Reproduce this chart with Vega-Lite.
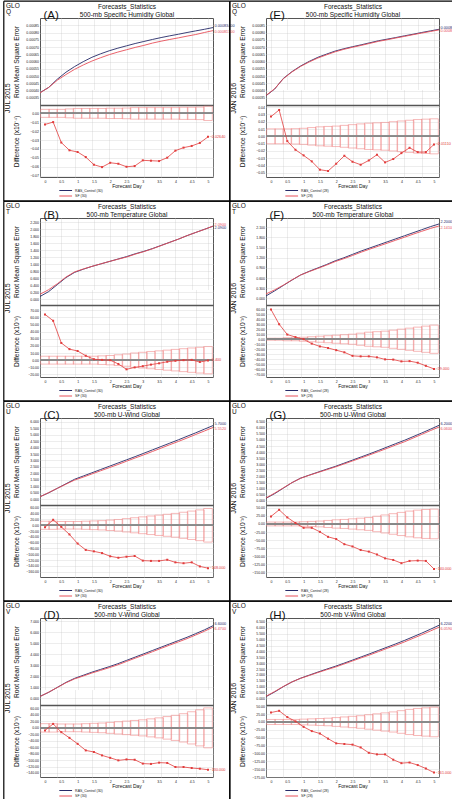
{
"$schema": "https://vega.github.io/schema/vega-lite/v6.json",
"padding": 0,
"background": "white",
"config": {
 "font": "Liberation Sans",
 "view": {"stroke": "#555", "strokeWidth": 1},
 "axis": {"grid": true, "gridColor": "#c4c4c4", "gridDash": [1, 1], "gridWidth": 0.6, "domain": false, "ticks": false, "labelFontSize": 3.5, "labelColor": "#222", "labelPadding": 1.5, "titleFontWeight": "normal", "titleColor": "#111"},
 "legend": {"labelFontSize": 3.5, "labelColor": "#222", "orient": "none", "legendX": 22.7, "legendY": 169.5, "direction": "vertical", "columns": 1, "title": null, "symbolType": "M-3,0H3", "symbolSize": 18, "symbolStrokeWidth": 1, "symbolOffset": 0, "rowPadding": 0.5, "labelOffset": 6.4}
},
"datasets": {"rows": [
{"p":"A","d":0,"c":0.000385,"f":0.000384,"v":-0.01245,"lo":-0.0045,"hi":0.0045},
{"p":"A","d":0.25,"c":0.000421,"f":0.000421,"v":-0.0098,"lo":-0.0045,"hi":0.0045},
{"p":"A","d":0.5,"c":0.000478,"f":0.000471,"v":-0.0328,"lo":-0.0045,"hi":0.0045},
{"p":"A","d":0.75,"c":0.000526,"f":0.00051,"v":-0.0415,"lo":-0.005,"hi":0.005},
{"p":"A","d":1,"c":0.000565,"f":0.000546,"v":-0.0434,"lo":-0.0055,"hi":0.0055},
{"p":"A","d":1.25,"c":0.000599,"f":0.000576,"v":-0.0491,"lo":-0.0055,"hi":0.0055},
{"p":"A","d":1.5,"c":0.000629,"f":0.000603,"v":-0.0577,"lo":-0.0055,"hi":0.0055},
{"p":"A","d":1.75,"c":0.000653,"f":0.000626,"v":-0.0604,"lo":-0.0055,"hi":0.0055},
{"p":"A","d":2,"c":0.000674,"f":0.000647,"v":-0.0555,"lo":-0.0058,"hi":0.0058},
{"p":"A","d":2.25,"c":0.000692,"f":0.000665,"v":-0.0566,"lo":-0.0058,"hi":0.0058},
{"p":"A","d":2.5,"c":0.000708,"f":0.000681,"v":-0.06,"lo":-0.006,"hi":0.006},
{"p":"A","d":2.75,"c":0.000724,"f":0.000697,"v":-0.0592,"lo":-0.0065,"hi":0.0065},
{"p":"A","d":3,"c":0.000738,"f":0.000711,"v":-0.0528,"lo":-0.0065,"hi":0.0065},
{"p":"A","d":3.25,"c":0.000752,"f":0.000727,"v":-0.0532,"lo":-0.0065,"hi":0.0065},
{"p":"A","d":3.5,"c":0.000765,"f":0.00074,"v":-0.0536,"lo":-0.0065,"hi":0.0065},
{"p":"A","d":3.75,"c":0.000777,"f":0.000752,"v":-0.0498,"lo":-0.0065,"hi":0.0065},
{"p":"A","d":4,"c":0.000788,"f":0.000763,"v":-0.0419,"lo":-0.0065,"hi":0.0065},
{"p":"A","d":4.25,"c":0.0008,"f":0.000775,"v":-0.0385,"lo":-0.0068,"hi":0.0068},
{"p":"A","d":4.5,"c":0.000811,"f":0.000786,"v":-0.0366,"lo":-0.0068,"hi":0.0068},
{"p":"A","d":4.75,"c":0.000822,"f":0.0008,"v":-0.0332,"lo":-0.007,"hi":0.007},
{"p":"A","d":5,"c":0.000834,"f":0.000813,"v":-0.0264,"lo":-0.008,"hi":0.008},
{"p":"E","d":0,"c":0.000364,"f":0.000366,"v":0.027,"lo":-0.0102,"hi":0.0102},
{"p":"E","d":0.25,"c":0.00041,"f":0.000412,"v":0.0361,"lo":-0.0102,"hi":0.0102},
{"p":"E","d":0.5,"c":0.000483,"f":0.000481,"v":-0.0066,"lo":-0.0102,"hi":0.0102},
{"p":"E","d":0.75,"c":0.00053,"f":0.000528,"v":-0.0184,"lo":-0.0105,"hi":0.0105},
{"p":"E","d":1,"c":0.000569,"f":0.000566,"v":-0.0261,"lo":-0.011,"hi":0.011},
{"p":"E","d":1.25,"c":0.000601,"f":0.000597,"v":-0.0343,"lo":-0.012,"hi":0.012},
{"p":"E","d":1.5,"c":0.000629,"f":0.000624,"v":-0.0457,"lo":-0.013,"hi":0.013},
{"p":"E","d":1.75,"c":0.000651,"f":0.000646,"v":-0.0475,"lo":-0.0135,"hi":0.0135},
{"p":"E","d":2,"c":0.000672,"f":0.000667,"v":-0.0375,"lo":-0.014,"hi":0.014},
{"p":"E","d":2.25,"c":0.000688,"f":0.000684,"v":-0.0266,"lo":-0.015,"hi":0.015},
{"p":"E","d":2.5,"c":0.000702,"f":0.000698,"v":-0.0348,"lo":-0.016,"hi":0.016},
{"p":"E","d":2.75,"c":0.000715,"f":0.000711,"v":-0.0389,"lo":-0.017,"hi":0.017},
{"p":"E","d":3,"c":0.000729,"f":0.000725,"v":-0.033,"lo":-0.018,"hi":0.018},
{"p":"E","d":3.25,"c":0.000743,"f":0.000739,"v":-0.0252,"lo":-0.0185,"hi":0.0185},
{"p":"E","d":3.5,"c":0.000754,"f":0.00075,"v":-0.0357,"lo":-0.019,"hi":0.019},
{"p":"E","d":3.75,"c":0.000765,"f":0.000762,"v":-0.0311,"lo":-0.02,"hi":0.02},
{"p":"E","d":4,"c":0.000777,"f":0.000773,"v":-0.023,"lo":-0.021,"hi":0.021},
{"p":"E","d":4.25,"c":0.000788,"f":0.000785,"v":-0.0157,"lo":-0.022,"hi":0.022},
{"p":"E","d":4.5,"c":0.0008,"f":0.000796,"v":-0.0216,"lo":-0.023,"hi":0.023},
{"p":"E","d":4.75,"c":0.000811,"f":0.000807,"v":-0.0216,"lo":-0.0235,"hi":0.0235},
{"p":"E","d":5,"c":0.000822,"f":0.000818,"v":-0.0111,"lo":-0.024,"hi":0.024},
{"p":"B","d":0,"c":0.08,"f":0.144,"v":63.9,"lo":-5.5,"hi":5.5},
{"p":"B","d":0.25,"c":0.22,"f":0.275,"v":55,"lo":-5.5,"hi":5.5},
{"p":"B","d":0.5,"c":0.42,"f":0.444,"v":24,"lo":-5.5,"hi":5.5},
{"p":"B","d":0.75,"c":0.62,"f":0.635,"v":15.4,"lo":-5.5,"hi":5.5},
{"p":"B","d":1,"c":0.77,"f":0.783,"v":12.8,"lo":-5.5,"hi":5.5},
{"p":"B","d":1.25,"c":0.86,"f":0.866,"v":6.2,"lo":-5.5,"hi":5.5},
{"p":"B","d":1.5,"c":0.94,"f":0.941,"v":1.3,"lo":-5.5,"hi":5.5},
{"p":"B","d":1.75,"c":1.01,"f":1.01,"v":0.4,"lo":-6,"hi":6},
{"p":"B","d":2,"c":1.08,"f":1.08,"v":0,"lo":-6.5,"hi":6.5},
{"p":"B","d":2.25,"c":1.15,"f":1.145,"v":-5.3,"lo":-7.5,"hi":7.5},
{"p":"B","d":2.5,"c":1.22,"f":1.207,"v":-12.8,"lo":-8.5,"hi":8.5},
{"p":"B","d":2.75,"c":1.3,"f":1.29,"v":-10.1,"lo":-10,"hi":10},
{"p":"B","d":3,"c":1.37,"f":1.362,"v":-8.4,"lo":-11,"hi":11},
{"p":"B","d":3.25,"c":1.45,"f":1.444,"v":-6.2,"lo":-12,"hi":12},
{"p":"B","d":3.5,"c":1.54,"f":1.536,"v":-4.4,"lo":-13,"hi":13},
{"p":"B","d":3.75,"c":1.63,"f":1.628,"v":-2.2,"lo":-14,"hi":14},
{"p":"B","d":4,"c":1.72,"f":1.719,"v":-0.9,"lo":-15,"hi":15},
{"p":"B","d":4.25,"c":1.82,"f":1.82,"v":0,"lo":-16,"hi":16},
{"p":"B","d":4.5,"c":1.91,"f":1.91,"v":0.4,"lo":-17,"hi":17},
{"p":"B","d":4.75,"c":2.0,"f":1.997,"v":-2.6,"lo":-18,"hi":18},
{"p":"B","d":5,"c":2.09,"f":2.09,"v":-0.4,"lo":-19,"hi":19},
{"p":"F","d":0,"c":0.07,"f":0.129,"v":59,"lo":-2,"hi":2},
{"p":"F","d":0.25,"c":0.22,"f":0.25,"v":29.8,"lo":-2,"hi":2},
{"p":"F","d":0.5,"c":0.38,"f":0.389,"v":9.3,"lo":-3,"hi":3},
{"p":"F","d":0.75,"c":0.54,"f":0.544,"v":4.3,"lo":-3,"hi":3},
{"p":"F","d":1,"c":0.69,"f":0.69,"v":0,"lo":-4,"hi":4},
{"p":"F","d":1.25,"c":0.8,"f":0.791,"v":-8.7,"lo":-5,"hi":5},
{"p":"F","d":1.5,"c":0.9,"f":0.886,"v":-14.3,"lo":-6,"hi":6},
{"p":"F","d":1.75,"c":1.0,"f":0.983,"v":-17.4,"lo":-7,"hi":7},
{"p":"F","d":2,"c":1.11,"f":1.088,"v":-21.7,"lo":-8,"hi":8},
{"p":"F","d":2.25,"c":1.2,"f":1.174,"v":-26,"lo":-9,"hi":9},
{"p":"F","d":2.5,"c":1.3,"f":1.267,"v":-33,"lo":-10,"hi":10},
{"p":"F","d":2.75,"c":1.4,"f":1.366,"v":-34,"lo":-12,"hi":12},
{"p":"F","d":3,"c":1.49,"f":1.456,"v":-34,"lo":-14,"hi":14},
{"p":"F","d":3.25,"c":1.58,"f":1.544,"v":-36,"lo":-15,"hi":15},
{"p":"F","d":3.5,"c":1.67,"f":1.63,"v":-40,"lo":-16,"hi":16},
{"p":"F","d":3.75,"c":1.76,"f":1.72,"v":-40.4,"lo":-18,"hi":18},
{"p":"F","d":4,"c":1.85,"f":1.806,"v":-44,"lo":-20,"hi":20},
{"p":"F","d":4.25,"c":1.94,"f":1.897,"v":-43.5,"lo":-22,"hi":22},
{"p":"F","d":4.5,"c":2.03,"f":1.983,"v":-46.6,"lo":-24,"hi":24},
{"p":"F","d":4.75,"c":2.12,"f":2.067,"v":-52.8,"lo":-26,"hi":26},
{"p":"F","d":5,"c":2.2,"f":2.141,"v":-59,"lo":-28,"hi":28},
{"p":"C","d":0,"c":0.2,"f":0.193,"v":-6.8,"lo":-14,"hi":14},
{"p":"C","d":0.25,"c":0.5,"f":0.519,"v":19,"lo":-14,"hi":14},
{"p":"C","d":0.5,"c":0.85,"f":0.844,"v":-5.6,"lo":-13,"hi":13},
{"p":"C","d":0.75,"c":1.2,"f":1.168,"v":-31.6,"lo":-13,"hi":13},
{"p":"C","d":1,"c":1.55,"f":1.487,"v":-63,"lo":-13,"hi":13},
{"p":"C","d":1.25,"c":1.8,"f":1.715,"v":-85,"lo":-14,"hi":14},
{"p":"C","d":1.5,"c":2.05,"f":1.96,"v":-90,"lo":-15,"hi":15},
{"p":"C","d":1.75,"c":2.3,"f":2.204,"v":-96,"lo":-16,"hi":16},
{"p":"C","d":2,"c":2.55,"f":2.443,"v":-107,"lo":-18,"hi":18},
{"p":"C","d":2.25,"c":2.8,"f":2.688,"v":-112,"lo":-20,"hi":20},
{"p":"C","d":2.5,"c":3.05,"f":2.942,"v":-108.5,"lo":-23,"hi":23},
{"p":"C","d":2.75,"c":3.3,"f":3.194,"v":-106,"lo":-26,"hi":26},
{"p":"C","d":3,"c":3.56,"f":3.438,"v":-122,"lo":-29,"hi":29},
{"p":"C","d":3.25,"c":3.82,"f":3.697,"v":-123,"lo":-32,"hi":32},
{"p":"C","d":3.5,"c":4.08,"f":3.957,"v":-123,"lo":-35,"hi":35},
{"p":"C","d":3.75,"c":4.34,"f":4.221,"v":-119,"lo":-38,"hi":38},
{"p":"C","d":4,"c":4.6,"f":4.472,"v":-128,"lo":-41,"hi":41},
{"p":"C","d":4.25,"c":4.87,"f":4.739,"v":-131,"lo":-45,"hi":45},
{"p":"C","d":4.5,"c":5.14,"f":5.012,"v":-128,"lo":-49,"hi":49},
{"p":"C","d":4.75,"c":5.42,"f":5.278,"v":-142,"lo":-53,"hi":53},
{"p":"C","d":5,"c":5.7,"f":5.552,"v":-148,"lo":-58,"hi":58},
{"p":"G","d":0,"c":0.22,"f":0.244,"v":23.5,"lo":-6,"hi":6},
{"p":"G","d":0.25,"c":0.6,"f":0.644,"v":44,"lo":-6,"hi":6},
{"p":"G","d":0.5,"c":1.05,"f":1.07,"v":20.4,"lo":-6,"hi":6},
{"p":"G","d":0.75,"c":1.5,"f":1.503,"v":3,"lo":-6,"hi":6},
{"p":"G","d":1,"c":1.87,"f":1.858,"v":-12,"lo":-7,"hi":7},
{"p":"G","d":1.25,"c":2.12,"f":2.108,"v":-12,"lo":-8,"hi":8},
{"p":"G","d":1.5,"c":2.36,"f":2.336,"v":-24.5,"lo":-9,"hi":9},
{"p":"G","d":1.75,"c":2.6,"f":2.56,"v":-40,"lo":-11,"hi":11},
{"p":"G","d":2,"c":2.83,"f":2.783,"v":-47,"lo":-13,"hi":13},
{"p":"G","d":2.25,"c":3.09,"f":3.027,"v":-63,"lo":-14,"hi":14},
{"p":"G","d":2.5,"c":3.35,"f":3.28,"v":-70,"lo":-16,"hi":16},
{"p":"G","d":2.75,"c":3.61,"f":3.529,"v":-81,"lo":-18,"hi":18},
{"p":"G","d":3,"c":3.87,"f":3.784,"v":-86,"lo":-20,"hi":20},
{"p":"G","d":3.25,"c":4.14,"f":4.045,"v":-95,"lo":-24,"hi":24},
{"p":"G","d":3.5,"c":4.42,"f":4.313,"v":-107,"lo":-28,"hi":28},
{"p":"G","d":3.75,"c":4.7,"f":4.588,"v":-112,"lo":-32,"hi":32},
{"p":"G","d":4,"c":4.97,"f":4.848,"v":-122,"lo":-36,"hi":36},
{"p":"G","d":4.25,"c":5.27,"f":5.155,"v":-115,"lo":-40,"hi":40},
{"p":"G","d":4.5,"c":5.57,"f":5.456,"v":-114,"lo":-43,"hi":43},
{"p":"G","d":4.75,"c":5.88,"f":5.765,"v":-115,"lo":-45,"hi":45},
{"p":"G","d":5,"c":6.2,"f":6.06,"v":-140,"lo":-46,"hi":46},
{"p":"D","d":0,"c":0.18,"f":0.172,"v":-8,"lo":-13,"hi":13},
{"p":"D","d":0.25,"c":0.55,"f":0.562,"v":12.4,"lo":-13,"hi":13},
{"p":"D","d":0.5,"c":1.0,"f":0.987,"v":-13.4,"lo":-12,"hi":12},
{"p":"D","d":0.75,"c":1.45,"f":1.419,"v":-31,"lo":-12,"hi":12},
{"p":"D","d":1,"c":1.82,"f":1.771,"v":-49.5,"lo":-12,"hi":12},
{"p":"D","d":1.25,"c":2.1,"f":2.03,"v":-70,"lo":-13,"hi":13},
{"p":"D","d":1.5,"c":2.38,"f":2.305,"v":-75,"lo":-14,"hi":14},
{"p":"D","d":1.75,"c":2.63,"f":2.545,"v":-85.5,"lo":-15,"hi":15},
{"p":"D","d":2,"c":2.88,"f":2.787,"v":-93,"lo":-17,"hi":17},
{"p":"D","d":2.25,"c":3.15,"f":3.049,"v":-101,"lo":-19,"hi":19},
{"p":"D","d":2.5,"c":3.45,"f":3.352,"v":-98,"lo":-21,"hi":21},
{"p":"D","d":2.75,"c":3.75,"f":3.651,"v":-99,"lo":-23,"hi":23},
{"p":"D","d":3,"c":4.05,"f":3.939,"v":-111,"lo":-25,"hi":25},
{"p":"D","d":3.25,"c":4.35,"f":4.238,"v":-112,"lo":-28,"hi":28},
{"p":"D","d":3.5,"c":4.65,"f":4.542,"v":-108,"lo":-31,"hi":31},
{"p":"D","d":3.75,"c":4.95,"f":4.841,"v":-109,"lo":-35,"hi":35},
{"p":"D","d":4,"c":5.25,"f":5.128,"v":-121.6,"lo":-39,"hi":39},
{"p":"D","d":4.25,"c":5.55,"f":5.428,"v":-121.6,"lo":-44,"hi":44},
{"p":"D","d":4.5,"c":5.88,"f":5.755,"v":-124.7,"lo":-50,"hi":50},
{"p":"D","d":4.75,"c":6.22,"f":6.093,"v":-126.8,"lo":-56,"hi":56},
{"p":"D","d":5,"c":6.6,"f":6.47,"v":-130,"lo":-62,"hi":62},
{"p":"H","d":0,"c":0.15,"f":0.18,"v":30,"lo":-8,"hi":8},
{"p":"H","d":0.25,"c":0.55,"f":0.586,"v":35.5,"lo":-8,"hi":8},
{"p":"H","d":0.5,"c":1.0,"f":1.016,"v":15.5,"lo":-8,"hi":8},
{"p":"H","d":0.75,"c":1.4,"f":1.402,"v":2,"lo":-8,"hi":8},
{"p":"H","d":1,"c":1.72,"f":1.705,"v":-15.5,"lo":-9,"hi":9},
{"p":"H","d":1.25,"c":1.98,"f":1.951,"v":-29,"lo":-10,"hi":10},
{"p":"H","d":1.5,"c":2.24,"f":2.203,"v":-36.7,"lo":-11,"hi":11},
{"p":"H","d":1.75,"c":2.49,"f":2.437,"v":-53,"lo":-12,"hi":12},
{"p":"H","d":2,"c":2.73,"f":2.662,"v":-68,"lo":-14,"hi":14},
{"p":"H","d":2.25,"c":2.99,"f":2.92,"v":-70,"lo":-16,"hi":16},
{"p":"H","d":2.5,"c":3.26,"f":3.188,"v":-72,"lo":-18,"hi":18},
{"p":"H","d":2.75,"c":3.53,"f":3.449,"v":-81,"lo":-20,"hi":20},
{"p":"H","d":3,"c":3.8,"f":3.702,"v":-98,"lo":-23,"hi":23},
{"p":"H","d":3.25,"c":4.08,"f":3.977,"v":-103,"lo":-26,"hi":26},
{"p":"H","d":3.5,"c":4.36,"f":4.257,"v":-103,"lo":-29,"hi":29},
{"p":"H","d":3.75,"c":4.64,"f":4.52,"v":-120,"lo":-32,"hi":32},
{"p":"H","d":4,"c":4.93,"f":4.799,"v":-131,"lo":-36,"hi":36},
{"p":"H","d":4.25,"c":5.24,"f":5.111,"v":-129,"lo":-40,"hi":40},
{"p":"H","d":4.5,"c":5.55,"f":5.413,"v":-137,"lo":-43,"hi":43},
{"p":"H","d":4.75,"c":5.88,"f":5.732,"v":-148,"lo":-45,"hi":45},
{"p":"H","d":5,"c":6.22,"f":6.059,"v":-161,"lo":-47,"hi":47}
]},
"columns": 2,
"spacing": {"row": 41, "column": 53},
"bounds": "flush",
"resolve": {"scale": {"color": "independent"}},
"concat": [
{"width": 173, "height": 159,
 "data": {"name": "rows"},
 "transform": [{"filter": "datum.p == 'A'"}],
 "resolve": {"scale": {"x": "independent", "y": "independent"}, "axis": {"x": "independent", "y": "independent"}},
 "layer": [
  {"resolve": {"axis": {"x": "independent", "y": "independent"}},
   "layer": [
    {"mark": {"type": "point", "opacity": 0}, "encoding": {
      "x": {"datum": 0, "type": "quantitative", "scale": {"domain": [0, 1], "range": [-36.7, 189.3]}, "axis": {"orient": "top", "offset": 17.3, "domain": true, "domainColor": "#000", "domainWidth": 1.2, "labels": false, "grid": false, "title": ["Forecasts_Statistics", "500-mb Specific Humidity   Global"], "titleX": 86.5, "titleY": 2.3, "titleAngle": 0, "titleAlign": "center", "titleBaseline": "top", "titleFontSize": 6.5, "titleLineHeight": 8.4}},
      "y": {"datum": 0, "type": "quantitative", "scale": {"domain": [0, 1], "range": [182.7, -17.3]}, "axis": {"orient": "left", "offset": 36.7, "domain": true, "domainColor": "#000", "domainWidth": 1.2, "labels": false, "grid": false, "title": null}}}},
    {"mark": {"type": "point", "opacity": 0}, "encoding": {
      "x": {"datum": 0, "type": "quantitative", "axis": {"orient": "bottom", "offset": 23.7, "domain": true, "domainColor": "#000", "domainWidth": 1.2, "labels": false, "grid": false, "title": null}},
      "y": {"datum": 0, "type": "quantitative", "axis": {"orient": "right", "offset": 16.3, "domain": true, "domainColor": "#000", "domainWidth": 1.2, "labels": false, "grid": false, "title": null}}}}
   ]},
  {"transform": [{"fold": ["c", "f"], "as": ["s", "val"]}],
   "resolve": {"axis": {"x": "independent", "y": "independent"}},
   "layer": [
    {"mark": {"type": "line", "strokeWidth": 0.9},
     "encoding": {
      "x": {"field": "d", "type": "quantitative", "scale": {"domain": [0, 5], "nice": false}, "axis": {"orient": "bottom", "grid": true, "labels": false, "title": null, "values": [0,0.5,1,1.5,2,2.5,3,3.5,4,4.5,5]}},
      "y": {"field": "val", "type": "quantitative", "scale": {"domain": [0.0003, 0.0009], "range": [87, 0], "nice": false, "zero": false}, "axis": {"orient": "left", "grid": true, "values": [0.00035,0.0004,0.00045,0.0005,0.00055,0.0006,0.00065,0.0007,0.00075,0.0008,0.00085], "format": ".5f", "title": "Root Mean Square Error", "titleX": -23.5, "titleY": 43.5, "titleAngle": 270, "titleAlign": "center", "titleBaseline": "middle", "titleFontSize": 6.6}},
      "color": {"field": "s", "type": "nominal", "scale": {"domain": ["c", "f"], "range": ["#262a68", "#e8505a"]}, "legend": {"labelExpr": "datum.label == 'c' ? 'RAS_Control (30)' : 'SF (30)'"}}
     }},
    {"transform": [{"filter": "datum.d == 5 && datum.s == 'c'"}],
     "mark": {"type": "text", "align": "left", "dx": 1.5, "dy": -1.6, "fontSize": 3.8, "color": "#262a68"},
     "encoding": {
      "x": {"field": "d", "type": "quantitative", "axis": {"orient": "top", "grid": false, "labels": false, "title": "(A)", "titleX": 3, "titleY": 0.5, "titleAngle": 0, "titleAlign": "left", "titleBaseline": "alphabetic", "titleFontSize": 11.5}},
      "y": {"field": "val", "type": "quantitative", "axis": {"orient": "left", "grid": false, "labels": false, "title": ["GLO", "Q"], "titleX": -34.5, "titleY": -16, "titleAngle": 0, "titleAlign": "left", "titleBaseline": "top", "titleFontSize": 6.5, "titleLineHeight": 6}},
      "text": {"field": "val", "type": "quantitative", "format": ".8f"}
     }},
    {"transform": [{"filter": "datum.d == 5 && datum.s == 'f'"}],
     "mark": {"type": "text", "align": "left", "dx": 1.5, "dy": 1.6, "fontSize": 3.8, "color": "#e8505a"},
     "encoding": {
      "x": {"field": "d", "type": "quantitative", "axis": null},
      "y": {"field": "val", "type": "quantitative", "axis": null},
      "text": {"field": "val", "type": "quantitative", "format": ".8f"}
     }}
   ]},
  {"resolve": {"axis": {"x": "independent", "y": "independent"}},
   "layer": [
    {"mark": {"type": "bar", "width": 8.65, "fill": "transparent", "stroke": "#f08c8c", "strokeWidth": 0.6, "clip": true},
     "encoding": {
      "x": {"field": "d", "type": "quantitative", "scale": {"domain": [0, 5], "nice": false}, "axis": {"orient": "bottom", "grid": true, "values": [0,0.5,1,1.5,2,2.5,3,3.5,4,4.5,5], "format": "~f", "labelPadding": 2.5, "title": "Forecast Day", "titleFontSize": 5, "titleY": 8.3, "titleBaseline": "middle"}},
      "y": {"field": "lo", "type": "quantitative", "scale": {"domain": [-0.0715, 0.0094], "range": [159, 87], "nice": false, "zero": false}, "axis": {"orient": "left", "grid": true, "values": [0,-0.01,-0.02,-0.03,-0.04,-0.05,-0.06,-0.07], "format": ".2f", "title": "Difference (x10⁻⁴)", "titleX": -23.5, "titleY": 123, "titleAngle": 270, "titleAlign": "center", "titleBaseline": "middle", "titleFontSize": 6.6}},
      "y2": {"field": "hi"}
     }},
    {"mark": {"type": "rule", "color": "#8a8a8a", "strokeWidth": 0.7}, "encoding": {"y": {"datum": 0, "type": "quantitative", "axis": null}}},
    {"mark": {"type": "line", "color": "#e23c3c", "strokeWidth": 0.8, "point": {"shape": "square", "size": 4, "filled": true, "color": "#e23c3c"}},
     "encoding": {"x": {"field": "d", "type": "quantitative", "axis": {"orient": "top", "offset": -87, "domain": true, "domainColor": "#555", "domainWidth": 1.6, "labels": false, "grid": false, "title": null}}, "y": {"field": "v", "type": "quantitative", "axis": null}}},
    {"transform": [{"filter": "datum.d == 5"}],
     "mark": {"type": "text", "align": "left", "dx": 1.5, "fontSize": 3.8, "color": "#e23c3c"},
     "encoding": {"x": {"field": "d", "type": "quantitative", "axis": null}, "y": {"field": "v", "type": "quantitative", "axis": {"orient": "left", "grid": false, "labels": false, "title": "JUL 2015", "titleX": -32.2, "titleY": 79.7, "titleAngle": 270, "titleAlign": "center", "titleBaseline": "middle", "titleFontSize": 7}},
      "text": {"field": "v", "type": "quantitative", "format": ".5f"}}}
   ]}
 ]},
{"width": 173, "height": 159,
 "data": {"name": "rows"},
 "transform": [{"filter": "datum.p == 'E'"}],
 "resolve": {"scale": {"x": "independent", "y": "independent"}, "axis": {"x": "independent", "y": "independent"}},
 "layer": [
  {"resolve": {"axis": {"x": "independent", "y": "independent"}},
   "layer": [
    {"mark": {"type": "point", "opacity": 0}, "encoding": {
      "x": {"datum": 0, "type": "quantitative", "scale": {"domain": [0, 1], "range": [-36.7, 189.3]}, "axis": {"orient": "top", "offset": 17.3, "domain": true, "domainColor": "#000", "domainWidth": 1.2, "labels": false, "grid": false, "title": ["Forecasts_Statistics", "500-mb Specific Humidity   Global"], "titleX": 86.5, "titleY": 2.3, "titleAngle": 0, "titleAlign": "center", "titleBaseline": "top", "titleFontSize": 6.5, "titleLineHeight": 8.4}},
      "y": {"datum": 0, "type": "quantitative", "scale": {"domain": [0, 1], "range": [182.7, -17.3]}, "axis": {"orient": "left", "offset": 36.7, "domain": true, "domainColor": "#000", "domainWidth": 1.2, "labels": false, "grid": false, "title": null}}}},
    {"mark": {"type": "point", "opacity": 0}, "encoding": {
      "x": {"datum": 0, "type": "quantitative", "axis": {"orient": "bottom", "offset": 23.7, "domain": true, "domainColor": "#000", "domainWidth": 1.2, "labels": false, "grid": false, "title": null}},
      "y": {"datum": 0, "type": "quantitative", "axis": {"orient": "right", "offset": 16.3, "domain": true, "domainColor": "#000", "domainWidth": 1.2, "labels": false, "grid": false, "title": null}}}}
   ]},
  {"transform": [{"fold": ["c", "f"], "as": ["s", "val"]}],
   "resolve": {"axis": {"x": "independent", "y": "independent"}},
   "layer": [
    {"mark": {"type": "line", "strokeWidth": 0.9},
     "encoding": {
      "x": {"field": "d", "type": "quantitative", "scale": {"domain": [0, 5], "nice": false}, "axis": {"orient": "bottom", "grid": true, "labels": false, "title": null, "values": [0,0.5,1,1.5,2,2.5,3,3.5,4,4.5,5]}},
      "y": {"field": "val", "type": "quantitative", "scale": {"domain": [0.0003, 0.0009], "range": [87, 0], "nice": false, "zero": false}, "axis": {"orient": "left", "grid": true, "values": [0.00035,0.0004,0.00045,0.0005,0.00055,0.0006,0.00065,0.0007,0.00075,0.0008,0.00085], "format": ".5f", "title": "Root Mean Square Error", "titleX": -23.5, "titleY": 43.5, "titleAngle": 270, "titleAlign": "center", "titleBaseline": "middle", "titleFontSize": 6.6}},
      "color": {"field": "s", "type": "nominal", "scale": {"domain": ["c", "f"], "range": ["#262a68", "#e8505a"]}, "legend": {"labelExpr": "datum.label == 'c' ? 'RAS_Control (28)' : 'SF (28)'"}}
     }},
    {"transform": [{"filter": "datum.d == 5 && datum.s == 'c'"}],
     "mark": {"type": "text", "align": "left", "dx": 1.5, "dy": -1.6, "fontSize": 3.8, "color": "#262a68"},
     "encoding": {
      "x": {"field": "d", "type": "quantitative", "axis": {"orient": "top", "grid": false, "labels": false, "title": "(E)", "titleX": 3, "titleY": 0.5, "titleAngle": 0, "titleAlign": "left", "titleBaseline": "alphabetic", "titleFontSize": 11.5}},
      "y": {"field": "val", "type": "quantitative", "axis": {"orient": "left", "grid": false, "labels": false, "title": ["GLO", "Q"], "titleX": -34.5, "titleY": -16, "titleAngle": 0, "titleAlign": "left", "titleBaseline": "top", "titleFontSize": 6.5, "titleLineHeight": 6}},
      "text": {"field": "val", "type": "quantitative", "format": ".8f"}
     }},
    {"transform": [{"filter": "datum.d == 5 && datum.s == 'f'"}],
     "mark": {"type": "text", "align": "left", "dx": 1.5, "dy": 1.6, "fontSize": 3.8, "color": "#e8505a"},
     "encoding": {
      "x": {"field": "d", "type": "quantitative", "axis": null},
      "y": {"field": "val", "type": "quantitative", "axis": null},
      "text": {"field": "val", "type": "quantitative", "format": ".8f"}
     }}
   ]},
  {"resolve": {"axis": {"x": "independent", "y": "independent"}},
   "layer": [
    {"mark": {"type": "bar", "width": 8.65, "fill": "transparent", "stroke": "#f08c8c", "strokeWidth": 0.6, "clip": true},
     "encoding": {
      "x": {"field": "d", "type": "quantitative", "scale": {"domain": [0, 5], "nice": false}, "axis": {"orient": "bottom", "grid": true, "values": [0,0.5,1,1.5,2,2.5,3,3.5,4,4.5,5], "format": "~f", "labelPadding": 2.5, "title": "Forecast Day", "titleFontSize": 5, "titleY": 8.3, "titleBaseline": "middle"}},
      "y": {"field": "lo", "type": "quantitative", "scale": {"domain": [-0.0557, 0.0429], "range": [159, 87], "nice": false, "zero": false}, "axis": {"orient": "left", "grid": true, "values": [0.04,0.03,0.02,0.01,0,-0.01,-0.02,-0.03,-0.04,-0.05], "format": ".2f", "title": "Difference (x10⁻⁴)", "titleX": -23.5, "titleY": 123, "titleAngle": 270, "titleAlign": "center", "titleBaseline": "middle", "titleFontSize": 6.6}},
      "y2": {"field": "hi"}
     }},
    {"mark": {"type": "rule", "color": "#8a8a8a", "strokeWidth": 0.7}, "encoding": {"y": {"datum": 0, "type": "quantitative", "axis": null}}},
    {"mark": {"type": "line", "color": "#e23c3c", "strokeWidth": 0.8, "point": {"shape": "square", "size": 4, "filled": true, "color": "#e23c3c"}},
     "encoding": {"x": {"field": "d", "type": "quantitative", "axis": {"orient": "top", "offset": -87, "domain": true, "domainColor": "#555", "domainWidth": 1.6, "labels": false, "grid": false, "title": null}}, "y": {"field": "v", "type": "quantitative", "axis": null}}},
    {"transform": [{"filter": "datum.d == 5"}],
     "mark": {"type": "text", "align": "left", "dx": 1.5, "fontSize": 3.8, "color": "#e23c3c"},
     "encoding": {"x": {"field": "d", "type": "quantitative", "axis": null}, "y": {"field": "v", "type": "quantitative", "axis": {"orient": "left", "grid": false, "labels": false, "title": "JAN 2016", "titleX": -32.2, "titleY": 79.7, "titleAngle": 270, "titleAlign": "center", "titleBaseline": "middle", "titleFontSize": 7}},
      "text": {"field": "v", "type": "quantitative", "format": ".5f"}}}
   ]}
 ]},
{"width": 173, "height": 159,
 "data": {"name": "rows"},
 "transform": [{"filter": "datum.p == 'B'"}],
 "resolve": {"scale": {"x": "independent", "y": "independent"}, "axis": {"x": "independent", "y": "independent"}},
 "layer": [
  {"resolve": {"axis": {"x": "independent", "y": "independent"}},
   "layer": [
    {"mark": {"type": "point", "opacity": 0}, "encoding": {
      "x": {"datum": 0, "type": "quantitative", "scale": {"domain": [0, 1], "range": [-36.7, 189.3]}, "axis": {"orient": "top", "offset": 17.3, "domain": true, "domainColor": "#000", "domainWidth": 1.2, "labels": false, "grid": false, "title": ["Forecasts_Statistics", "500-mb Temperature   Global"], "titleX": 86.5, "titleY": 2.3, "titleAngle": 0, "titleAlign": "center", "titleBaseline": "top", "titleFontSize": 6.5, "titleLineHeight": 8.4}},
      "y": {"datum": 0, "type": "quantitative", "scale": {"domain": [0, 1], "range": [182.7, -17.3]}, "axis": {"orient": "left", "offset": 36.7, "domain": true, "domainColor": "#000", "domainWidth": 1.2, "labels": false, "grid": false, "title": null}}}},
    {"mark": {"type": "point", "opacity": 0}, "encoding": {
      "x": {"datum": 0, "type": "quantitative", "axis": {"orient": "bottom", "offset": 23.7, "domain": true, "domainColor": "#000", "domainWidth": 1.2, "labels": false, "grid": false, "title": null}},
      "y": {"datum": 0, "type": "quantitative", "axis": {"orient": "right", "offset": 16.3, "domain": true, "domainColor": "#000", "domainWidth": 1.2, "labels": false, "grid": false, "title": null}}}}
   ]},
  {"transform": [{"fold": ["c", "f"], "as": ["s", "val"]}],
   "resolve": {"axis": {"x": "independent", "y": "independent"}},
   "layer": [
    {"mark": {"type": "line", "strokeWidth": 0.9},
     "encoding": {
      "x": {"field": "d", "type": "quantitative", "scale": {"domain": [0, 5], "nice": false}, "axis": {"orient": "bottom", "grid": true, "labels": false, "title": null, "values": [0,0.5,1,1.5,2,2.5,3,3.5,4,4.5,5]}},
      "y": {"field": "val", "type": "quantitative", "scale": {"domain": [-0.163, 2.324], "range": [87, 0], "nice": false, "zero": false}, "axis": {"orient": "left", "grid": true, "values": [0,0.2,0.4,0.6,0.8,1,1.2,1.4,1.6,1.8,2,2.2], "format": ".3f", "title": "Root Mean Square Error", "titleX": -23.5, "titleY": 43.5, "titleAngle": 270, "titleAlign": "center", "titleBaseline": "middle", "titleFontSize": 6.6}},
      "color": {"field": "s", "type": "nominal", "scale": {"domain": ["c", "f"], "range": ["#262a68", "#e8505a"]}, "legend": {"labelExpr": "datum.label == 'c' ? 'RAS_Control (30)' : 'SF (30)'"}}
     }},
    {"transform": [{"filter": "datum.d == 5 && datum.s == 'c'"}],
     "mark": {"type": "text", "align": "left", "dx": 1.5, "dy": 1.6, "fontSize": 3.8, "color": "#262a68"},
     "encoding": {
      "x": {"field": "d", "type": "quantitative", "axis": {"orient": "top", "grid": false, "labels": false, "title": "(B)", "titleX": 3, "titleY": 0.5, "titleAngle": 0, "titleAlign": "left", "titleBaseline": "alphabetic", "titleFontSize": 11.5}},
      "y": {"field": "val", "type": "quantitative", "axis": {"orient": "left", "grid": false, "labels": false, "title": ["GLO", "T"], "titleX": -34.5, "titleY": -16, "titleAngle": 0, "titleAlign": "left", "titleBaseline": "top", "titleFontSize": 6.5, "titleLineHeight": 6}},
      "text": {"field": "val", "type": "quantitative", "format": ".4f"}
     }},
    {"transform": [{"filter": "datum.d == 5 && datum.s == 'f'"}],
     "mark": {"type": "text", "align": "left", "dx": 1.5, "dy": -1.6, "fontSize": 3.8, "color": "#e8505a"},
     "encoding": {
      "x": {"field": "d", "type": "quantitative", "axis": null},
      "y": {"field": "val", "type": "quantitative", "axis": null},
      "text": {"field": "val", "type": "quantitative", "format": ".4f"}
     }}
   ]},
  {"resolve": {"axis": {"x": "independent", "y": "independent"}},
   "layer": [
    {"mark": {"type": "bar", "width": 8.65, "fill": "transparent", "stroke": "#f08c8c", "strokeWidth": 0.6, "clip": true},
     "encoding": {
      "x": {"field": "d", "type": "quantitative", "scale": {"domain": [0, 5], "nice": false}, "axis": {"orient": "bottom", "grid": true, "values": [0,0.5,1,1.5,2,2.5,3,3.5,4,4.5,5], "format": "~f", "labelPadding": 2.5, "title": "Forecast Day", "titleFontSize": 5, "titleY": 8.3, "titleBaseline": "middle"}},
      "y": {"field": "lo", "type": "quantitative", "scale": {"domain": [-23.5, 77], "range": [159, 87], "nice": false, "zero": false}, "axis": {"orient": "left", "grid": true, "values": [70,60,50,40,30,20,10,0,-10,-20], "format": ".2f", "title": "Difference (x10⁻³)", "titleX": -23.5, "titleY": 123, "titleAngle": 270, "titleAlign": "center", "titleBaseline": "middle", "titleFontSize": 6.6}},
      "y2": {"field": "hi"}
     }},
    {"mark": {"type": "rule", "color": "#8a8a8a", "strokeWidth": 0.7}, "encoding": {"y": {"datum": 0, "type": "quantitative", "axis": null}}},
    {"mark": {"type": "line", "color": "#e23c3c", "strokeWidth": 0.8, "point": {"shape": "square", "size": 4, "filled": true, "color": "#e23c3c"}},
     "encoding": {"x": {"field": "d", "type": "quantitative", "axis": {"orient": "top", "offset": -87, "domain": true, "domainColor": "#555", "domainWidth": 1.6, "labels": false, "grid": false, "title": null}}, "y": {"field": "v", "type": "quantitative", "axis": null}}},
    {"transform": [{"filter": "datum.d == 5"}],
     "mark": {"type": "text", "align": "left", "dx": 1.5, "fontSize": 3.8, "color": "#e23c3c"},
     "encoding": {"x": {"field": "d", "type": "quantitative", "axis": null}, "y": {"field": "v", "type": "quantitative", "axis": {"orient": "left", "grid": false, "labels": false, "title": "JUL 2015", "titleX": -32.2, "titleY": 79.7, "titleAngle": 270, "titleAlign": "center", "titleBaseline": "middle", "titleFontSize": 7}},
      "text": {"field": "v", "type": "quantitative", "format": ".3f"}}}
   ]}
 ]},
{"width": 173, "height": 159,
 "data": {"name": "rows"},
 "transform": [{"filter": "datum.p == 'F'"}],
 "resolve": {"scale": {"x": "independent", "y": "independent"}, "axis": {"x": "independent", "y": "independent"}},
 "layer": [
  {"resolve": {"axis": {"x": "independent", "y": "independent"}},
   "layer": [
    {"mark": {"type": "point", "opacity": 0}, "encoding": {
      "x": {"datum": 0, "type": "quantitative", "scale": {"domain": [0, 1], "range": [-36.7, 189.3]}, "axis": {"orient": "top", "offset": 17.3, "domain": true, "domainColor": "#000", "domainWidth": 1.2, "labels": false, "grid": false, "title": ["Forecasts_Statistics", "500-mb Temperature   Global"], "titleX": 86.5, "titleY": 2.3, "titleAngle": 0, "titleAlign": "center", "titleBaseline": "top", "titleFontSize": 6.5, "titleLineHeight": 8.4}},
      "y": {"datum": 0, "type": "quantitative", "scale": {"domain": [0, 1], "range": [182.7, -17.3]}, "axis": {"orient": "left", "offset": 36.7, "domain": true, "domainColor": "#000", "domainWidth": 1.2, "labels": false, "grid": false, "title": null}}}},
    {"mark": {"type": "point", "opacity": 0}, "encoding": {
      "x": {"datum": 0, "type": "quantitative", "axis": {"orient": "bottom", "offset": 23.7, "domain": true, "domainColor": "#000", "domainWidth": 1.2, "labels": false, "grid": false, "title": null}},
      "y": {"datum": 0, "type": "quantitative", "axis": {"orient": "right", "offset": 16.3, "domain": true, "domainColor": "#000", "domainWidth": 1.2, "labels": false, "grid": false, "title": null}}}}
   ]},
  {"transform": [{"fold": ["c", "f"], "as": ["s", "val"]}],
   "resolve": {"axis": {"x": "independent", "y": "independent"}},
   "layer": [
    {"mark": {"type": "line", "strokeWidth": 0.9},
     "encoding": {
      "x": {"field": "d", "type": "quantitative", "scale": {"domain": [0, 5], "nice": false}, "axis": {"orient": "bottom", "grid": true, "labels": false, "title": null, "values": [0,0.5,1,1.5,2,2.5,3,3.5,4,4.5,5]}},
      "y": {"field": "val", "type": "quantitative", "scale": {"domain": [-0.198, 2.377], "range": [87, 0], "nice": false, "zero": false}, "axis": {"orient": "left", "grid": true, "values": [0,0.3,0.6,0.9,1.2,1.5,1.8,2.1], "format": ".3f", "title": "Root Mean Square Error", "titleX": -23.5, "titleY": 43.5, "titleAngle": 270, "titleAlign": "center", "titleBaseline": "middle", "titleFontSize": 6.6}},
      "color": {"field": "s", "type": "nominal", "scale": {"domain": ["c", "f"], "range": ["#262a68", "#e8505a"]}, "legend": {"labelExpr": "datum.label == 'c' ? 'RAS_Control (28)' : 'SF (28)'"}}
     }},
    {"transform": [{"filter": "datum.d == 5 && datum.s == 'c'"}],
     "mark": {"type": "text", "align": "left", "dx": 1.5, "dy": -1.6, "fontSize": 3.8, "color": "#262a68"},
     "encoding": {
      "x": {"field": "d", "type": "quantitative", "axis": {"orient": "top", "grid": false, "labels": false, "title": "(F)", "titleX": 3, "titleY": 0.5, "titleAngle": 0, "titleAlign": "left", "titleBaseline": "alphabetic", "titleFontSize": 11.5}},
      "y": {"field": "val", "type": "quantitative", "axis": {"orient": "left", "grid": false, "labels": false, "title": ["GLO", "T"], "titleX": -34.5, "titleY": -16, "titleAngle": 0, "titleAlign": "left", "titleBaseline": "top", "titleFontSize": 6.5, "titleLineHeight": 6}},
      "text": {"field": "val", "type": "quantitative", "format": ".4f"}
     }},
    {"transform": [{"filter": "datum.d == 5 && datum.s == 'f'"}],
     "mark": {"type": "text", "align": "left", "dx": 1.5, "dy": 1.6, "fontSize": 3.8, "color": "#e8505a"},
     "encoding": {
      "x": {"field": "d", "type": "quantitative", "axis": null},
      "y": {"field": "val", "type": "quantitative", "axis": null},
      "text": {"field": "val", "type": "quantitative", "format": ".4f"}
     }}
   ]},
  {"resolve": {"axis": {"x": "independent", "y": "independent"}},
   "layer": [
    {"mark": {"type": "bar", "width": 8.65, "fill": "transparent", "stroke": "#f08c8c", "strokeWidth": 0.6, "clip": true},
     "encoding": {
      "x": {"field": "d", "type": "quantitative", "scale": {"domain": [0, 5], "nice": false}, "axis": {"orient": "bottom", "grid": true, "values": [0,0.5,1,1.5,2,2.5,3,3.5,4,4.5,5], "format": "~f", "labelPadding": 2.5, "title": "Forecast Day", "titleFontSize": 5, "titleY": 8.3, "titleBaseline": "middle"}},
      "y": {"field": "lo", "type": "quantitative", "scale": {"domain": [-75, 68], "range": [159, 87], "nice": false, "zero": false}, "axis": {"orient": "left", "grid": true, "values": [60,50,40,30,20,10,0,-10,-20,-30,-40,-50,-60,-70], "format": ".2f", "title": "Difference (x10⁻³)", "titleX": -23.5, "titleY": 123, "titleAngle": 270, "titleAlign": "center", "titleBaseline": "middle", "titleFontSize": 6.6}},
      "y2": {"field": "hi"}
     }},
    {"mark": {"type": "rule", "color": "#8a8a8a", "strokeWidth": 0.7}, "encoding": {"y": {"datum": 0, "type": "quantitative", "axis": null}}},
    {"mark": {"type": "line", "color": "#e23c3c", "strokeWidth": 0.8, "point": {"shape": "square", "size": 4, "filled": true, "color": "#e23c3c"}},
     "encoding": {"x": {"field": "d", "type": "quantitative", "axis": {"orient": "top", "offset": -87, "domain": true, "domainColor": "#555", "domainWidth": 1.6, "labels": false, "grid": false, "title": null}}, "y": {"field": "v", "type": "quantitative", "axis": null}}},
    {"transform": [{"filter": "datum.d == 5"}],
     "mark": {"type": "text", "align": "left", "dx": 1.5, "fontSize": 3.8, "color": "#e23c3c"},
     "encoding": {"x": {"field": "d", "type": "quantitative", "axis": null}, "y": {"field": "v", "type": "quantitative", "axis": {"orient": "left", "grid": false, "labels": false, "title": "JAN 2016", "titleX": -32.2, "titleY": 79.7, "titleAngle": 270, "titleAlign": "center", "titleBaseline": "middle", "titleFontSize": 7}},
      "text": {"field": "v", "type": "quantitative", "format": ".3f"}}}
   ]}
 ]},
{"width": 173, "height": 159,
 "data": {"name": "rows"},
 "transform": [{"filter": "datum.p == 'C'"}],
 "resolve": {"scale": {"x": "independent", "y": "independent"}, "axis": {"x": "independent", "y": "independent"}},
 "layer": [
  {"resolve": {"axis": {"x": "independent", "y": "independent"}},
   "layer": [
    {"mark": {"type": "point", "opacity": 0}, "encoding": {
      "x": {"datum": 0, "type": "quantitative", "scale": {"domain": [0, 1], "range": [-36.7, 189.3]}, "axis": {"orient": "top", "offset": 17.3, "domain": true, "domainColor": "#000", "domainWidth": 1.2, "labels": false, "grid": false, "title": ["Forecasts_Statistics", "500-mb U-Wind   Global"], "titleX": 86.5, "titleY": 2.3, "titleAngle": 0, "titleAlign": "center", "titleBaseline": "top", "titleFontSize": 6.5, "titleLineHeight": 8.4}},
      "y": {"datum": 0, "type": "quantitative", "scale": {"domain": [0, 1], "range": [182.7, -17.3]}, "axis": {"orient": "left", "offset": 36.7, "domain": true, "domainColor": "#000", "domainWidth": 1.2, "labels": false, "grid": false, "title": null}}}},
    {"mark": {"type": "point", "opacity": 0}, "encoding": {
      "x": {"datum": 0, "type": "quantitative", "axis": {"orient": "bottom", "offset": 23.7, "domain": true, "domainColor": "#000", "domainWidth": 1.2, "labels": false, "grid": false, "title": null}},
      "y": {"datum": 0, "type": "quantitative", "axis": {"orient": "right", "offset": 16.3, "domain": true, "domainColor": "#000", "domainWidth": 1.2, "labels": false, "grid": false, "title": null}}}}
   ]},
  {"transform": [{"fold": ["c", "f"], "as": ["s", "val"]}],
   "resolve": {"axis": {"x": "independent", "y": "independent"}},
   "layer": [
    {"mark": {"type": "line", "strokeWidth": 0.9},
     "encoding": {
      "x": {"field": "d", "type": "quantitative", "scale": {"domain": [0, 5], "nice": false}, "axis": {"orient": "bottom", "grid": true, "labels": false, "title": null, "values": [0,0.5,1,1.5,2,2.5,3,3.5,4,4.5,5]}},
      "y": {"field": "val", "type": "quantitative", "scale": {"domain": [-0.44, 6.285], "range": [87, 0], "nice": false, "zero": false}, "axis": {"orient": "left", "grid": true, "values": [0,0.5,1,1.5,2,2.5,3,3.5,4,4.5,5,5.5,6], "format": ".3f", "title": "Root Mean Square Error", "titleX": -23.5, "titleY": 43.5, "titleAngle": 270, "titleAlign": "center", "titleBaseline": "middle", "titleFontSize": 6.6}},
      "color": {"field": "s", "type": "nominal", "scale": {"domain": ["c", "f"], "range": ["#262a68", "#e8505a"]}, "legend": {"labelExpr": "datum.label == 'c' ? 'RAS_Control (30)' : 'SF (30)'"}}
     }},
    {"transform": [{"filter": "datum.d == 5 && datum.s == 'c'"}],
     "mark": {"type": "text", "align": "left", "dx": 1.5, "dy": -1.6, "fontSize": 3.8, "color": "#262a68"},
     "encoding": {
      "x": {"field": "d", "type": "quantitative", "axis": {"orient": "top", "grid": false, "labels": false, "title": "(C)", "titleX": 3, "titleY": 0.5, "titleAngle": 0, "titleAlign": "left", "titleBaseline": "alphabetic", "titleFontSize": 11.5}},
      "y": {"field": "val", "type": "quantitative", "axis": {"orient": "left", "grid": false, "labels": false, "title": ["GLO", "U"], "titleX": -34.5, "titleY": -16, "titleAngle": 0, "titleAlign": "left", "titleBaseline": "top", "titleFontSize": 6.5, "titleLineHeight": 6}},
      "text": {"field": "val", "type": "quantitative", "format": ".4f"}
     }},
    {"transform": [{"filter": "datum.d == 5 && datum.s == 'f'"}],
     "mark": {"type": "text", "align": "left", "dx": 1.5, "dy": 1.6, "fontSize": 3.8, "color": "#e8505a"},
     "encoding": {
      "x": {"field": "d", "type": "quantitative", "axis": null},
      "y": {"field": "val", "type": "quantitative", "axis": null},
      "text": {"field": "val", "type": "quantitative", "format": ".4f"}
     }}
   ]},
  {"resolve": {"axis": {"x": "independent", "y": "independent"}},
   "layer": [
    {"mark": {"type": "bar", "width": 8.65, "fill": "transparent", "stroke": "#f08c8c", "strokeWidth": 0.6, "clip": true},
     "encoding": {
      "x": {"field": "d", "type": "quantitative", "scale": {"domain": [0, 5], "nice": false}, "axis": {"orient": "bottom", "grid": true, "values": [0,0.5,1,1.5,2,2.5,3,3.5,4,4.5,5], "format": "~f", "labelPadding": 2.5, "title": "Forecast Day", "titleFontSize": 5, "titleY": 8.3, "titleBaseline": "middle"}},
      "y": {"field": "lo", "type": "quantitative", "scale": {"domain": [-178.5, 70], "range": [159, 87], "nice": false, "zero": false}, "axis": {"orient": "left", "grid": true, "values": [60,40,20,0,-20,-40,-60,-80,-100,-120,-140,-160], "format": ".2f", "title": "Difference (x10⁻³)", "titleX": -23.5, "titleY": 123, "titleAngle": 270, "titleAlign": "center", "titleBaseline": "middle", "titleFontSize": 6.6}},
      "y2": {"field": "hi"}
     }},
    {"mark": {"type": "rule", "color": "#8a8a8a", "strokeWidth": 0.7}, "encoding": {"y": {"datum": 0, "type": "quantitative", "axis": null}}},
    {"mark": {"type": "line", "color": "#e23c3c", "strokeWidth": 0.8, "point": {"shape": "square", "size": 4, "filled": true, "color": "#e23c3c"}},
     "encoding": {"x": {"field": "d", "type": "quantitative", "axis": {"orient": "top", "offset": -87, "domain": true, "domainColor": "#555", "domainWidth": 1.6, "labels": false, "grid": false, "title": null}}, "y": {"field": "v", "type": "quantitative", "axis": null}}},
    {"transform": [{"filter": "datum.d == 5"}],
     "mark": {"type": "text", "align": "left", "dx": 1.5, "fontSize": 3.8, "color": "#e23c3c"},
     "encoding": {"x": {"field": "d", "type": "quantitative", "axis": null}, "y": {"field": "v", "type": "quantitative", "axis": {"orient": "left", "grid": false, "labels": false, "title": "JUL 2015", "titleX": -32.2, "titleY": 79.7, "titleAngle": 270, "titleAlign": "center", "titleBaseline": "middle", "titleFontSize": 7}},
      "text": {"field": "v", "type": "quantitative", "format": ".3f"}}}
   ]}
 ]},
{"width": 173, "height": 159,
 "data": {"name": "rows"},
 "transform": [{"filter": "datum.p == 'G'"}],
 "resolve": {"scale": {"x": "independent", "y": "independent"}, "axis": {"x": "independent", "y": "independent"}},
 "layer": [
  {"resolve": {"axis": {"x": "independent", "y": "independent"}},
   "layer": [
    {"mark": {"type": "point", "opacity": 0}, "encoding": {
      "x": {"datum": 0, "type": "quantitative", "scale": {"domain": [0, 1], "range": [-36.7, 189.3]}, "axis": {"orient": "top", "offset": 17.3, "domain": true, "domainColor": "#000", "domainWidth": 1.2, "labels": false, "grid": false, "title": ["Forecasts_Statistics", "500-mb U-Wind   Global"], "titleX": 86.5, "titleY": 2.3, "titleAngle": 0, "titleAlign": "center", "titleBaseline": "top", "titleFontSize": 6.5, "titleLineHeight": 8.4}},
      "y": {"datum": 0, "type": "quantitative", "scale": {"domain": [0, 1], "range": [182.7, -17.3]}, "axis": {"orient": "left", "offset": 36.7, "domain": true, "domainColor": "#000", "domainWidth": 1.2, "labels": false, "grid": false, "title": null}}}},
    {"mark": {"type": "point", "opacity": 0}, "encoding": {
      "x": {"datum": 0, "type": "quantitative", "axis": {"orient": "bottom", "offset": 23.7, "domain": true, "domainColor": "#000", "domainWidth": 1.2, "labels": false, "grid": false, "title": null}},
      "y": {"datum": 0, "type": "quantitative", "axis": {"orient": "right", "offset": 16.3, "domain": true, "domainColor": "#000", "domainWidth": 1.2, "labels": false, "grid": false, "title": null}}}}
   ]},
  {"transform": [{"fold": ["c", "f"], "as": ["s", "val"]}],
   "resolve": {"axis": {"x": "independent", "y": "independent"}},
   "layer": [
    {"mark": {"type": "line", "strokeWidth": 0.9},
     "encoding": {
      "x": {"field": "d", "type": "quantitative", "scale": {"domain": [0, 5], "nice": false}, "axis": {"orient": "bottom", "grid": true, "labels": false, "title": null, "values": [0,0.5,1,1.5,2,2.5,3,3.5,4,4.5,5]}},
      "y": {"field": "val", "type": "quantitative", "scale": {"domain": [-0.33, 6.8], "range": [87, 0], "nice": false, "zero": false}, "axis": {"orient": "left", "grid": true, "values": [0,0.5,1,1.5,2,2.5,3,3.5,4,4.5,5,5.5,6,6.5], "format": ".3f", "title": "Root Mean Square Error", "titleX": -23.5, "titleY": 43.5, "titleAngle": 270, "titleAlign": "center", "titleBaseline": "middle", "titleFontSize": 6.6}},
      "color": {"field": "s", "type": "nominal", "scale": {"domain": ["c", "f"], "range": ["#262a68", "#e8505a"]}, "legend": {"labelExpr": "datum.label == 'c' ? 'RAS_Control (28)' : 'SF (28)'"}}
     }},
    {"transform": [{"filter": "datum.d == 5 && datum.s == 'c'"}],
     "mark": {"type": "text", "align": "left", "dx": 1.5, "dy": -1.6, "fontSize": 3.8, "color": "#262a68"},
     "encoding": {
      "x": {"field": "d", "type": "quantitative", "axis": {"orient": "top", "grid": false, "labels": false, "title": "(G)", "titleX": 3, "titleY": 0.5, "titleAngle": 0, "titleAlign": "left", "titleBaseline": "alphabetic", "titleFontSize": 11.5}},
      "y": {"field": "val", "type": "quantitative", "axis": {"orient": "left", "grid": false, "labels": false, "title": ["GLO", "U"], "titleX": -34.5, "titleY": -16, "titleAngle": 0, "titleAlign": "left", "titleBaseline": "top", "titleFontSize": 6.5, "titleLineHeight": 6}},
      "text": {"field": "val", "type": "quantitative", "format": ".4f"}
     }},
    {"transform": [{"filter": "datum.d == 5 && datum.s == 'f'"}],
     "mark": {"type": "text", "align": "left", "dx": 1.5, "dy": 1.6, "fontSize": 3.8, "color": "#e8505a"},
     "encoding": {
      "x": {"field": "d", "type": "quantitative", "axis": null},
      "y": {"field": "val", "type": "quantitative", "axis": null},
      "text": {"field": "val", "type": "quantitative", "format": ".4f"}
     }}
   ]},
  {"resolve": {"axis": {"x": "independent", "y": "independent"}},
   "layer": [
    {"mark": {"type": "bar", "width": 8.65, "fill": "transparent", "stroke": "#f08c8c", "strokeWidth": 0.6, "clip": true},
     "encoding": {
      "x": {"field": "d", "type": "quantitative", "scale": {"domain": [0, 5], "nice": false}, "axis": {"orient": "bottom", "grid": true, "values": [0,0.5,1,1.5,2,2.5,3,3.5,4,4.5,5], "format": "~f", "labelPadding": 2.5, "title": "Forecast Day", "titleFontSize": 5, "titleY": 8.3, "titleBaseline": "middle"}},
      "y": {"field": "lo", "type": "quantitative", "scale": {"domain": [-165, 59], "range": [159, 87], "nice": false, "zero": false}, "axis": {"orient": "left", "grid": true, "values": [50,25,0,-25,-50,-75,-100,-125,-150], "format": ".2f", "title": "Difference (x10⁻³)", "titleX": -23.5, "titleY": 123, "titleAngle": 270, "titleAlign": "center", "titleBaseline": "middle", "titleFontSize": 6.6}},
      "y2": {"field": "hi"}
     }},
    {"mark": {"type": "rule", "color": "#8a8a8a", "strokeWidth": 0.7}, "encoding": {"y": {"datum": 0, "type": "quantitative", "axis": null}}},
    {"mark": {"type": "line", "color": "#e23c3c", "strokeWidth": 0.8, "point": {"shape": "square", "size": 4, "filled": true, "color": "#e23c3c"}},
     "encoding": {"x": {"field": "d", "type": "quantitative", "axis": {"orient": "top", "offset": -87, "domain": true, "domainColor": "#555", "domainWidth": 1.6, "labels": false, "grid": false, "title": null}}, "y": {"field": "v", "type": "quantitative", "axis": null}}},
    {"transform": [{"filter": "datum.d == 5"}],
     "mark": {"type": "text", "align": "left", "dx": 1.5, "fontSize": 3.8, "color": "#e23c3c"},
     "encoding": {"x": {"field": "d", "type": "quantitative", "axis": null}, "y": {"field": "v", "type": "quantitative", "axis": {"orient": "left", "grid": false, "labels": false, "title": "JAN 2016", "titleX": -32.2, "titleY": 79.7, "titleAngle": 270, "titleAlign": "center", "titleBaseline": "middle", "titleFontSize": 7}},
      "text": {"field": "v", "type": "quantitative", "format": ".3f"}}}
   ]}
 ]},
{"width": 173, "height": 159,
 "data": {"name": "rows"},
 "transform": [{"filter": "datum.p == 'D'"}],
 "resolve": {"scale": {"x": "independent", "y": "independent"}, "axis": {"x": "independent", "y": "independent"}},
 "layer": [
  {"resolve": {"axis": {"x": "independent", "y": "independent"}},
   "layer": [
    {"mark": {"type": "point", "opacity": 0}, "encoding": {
      "x": {"datum": 0, "type": "quantitative", "scale": {"domain": [0, 1], "range": [-36.7, 189.3]}, "axis": {"orient": "top", "offset": 17.3, "domain": true, "domainColor": "#000", "domainWidth": 1.2, "labels": false, "grid": false, "title": ["Forecasts_Statistics", "500-mb V-Wind   Global"], "titleX": 86.5, "titleY": 2.3, "titleAngle": 0, "titleAlign": "center", "titleBaseline": "top", "titleFontSize": 6.5, "titleLineHeight": 8.4}},
      "y": {"datum": 0, "type": "quantitative", "scale": {"domain": [0, 1], "range": [182.7, -17.3]}, "axis": {"orient": "left", "offset": 36.7, "domain": true, "domainColor": "#000", "domainWidth": 1.2, "labels": false, "grid": false, "title": null}}}},
    {"mark": {"type": "point", "opacity": 0}, "encoding": {
      "x": {"datum": 0, "type": "quantitative", "axis": {"orient": "bottom", "offset": 23.7, "domain": true, "domainColor": "#000", "domainWidth": 1.2, "labels": false, "grid": false, "title": null}},
      "y": {"datum": 0, "type": "quantitative", "axis": {"orient": "right", "offset": 16.3, "domain": true, "domainColor": "#000", "domainWidth": 1.2, "labels": false, "grid": false, "title": null}}}}
   ]},
  {"transform": [{"fold": ["c", "f"], "as": ["s", "val"]}],
   "resolve": {"axis": {"x": "independent", "y": "independent"}},
   "layer": [
    {"mark": {"type": "line", "strokeWidth": 0.9},
     "encoding": {
      "x": {"field": "d", "type": "quantitative", "scale": {"domain": [0, 5], "nice": false}, "axis": {"orient": "bottom", "grid": true, "labels": false, "title": null, "values": [0,0.5,1,1.5,2,2.5,3,3.5,4,4.5,5]}},
      "y": {"field": "val", "type": "quantitative", "scale": {"domain": [-0.6, 7.3], "range": [87, 0], "nice": false, "zero": false}, "axis": {"orient": "left", "grid": true, "values": [0,1,2,3,4,5,6,7], "format": ".3f", "title": "Root Mean Square Error", "titleX": -23.5, "titleY": 43.5, "titleAngle": 270, "titleAlign": "center", "titleBaseline": "middle", "titleFontSize": 6.6}},
      "color": {"field": "s", "type": "nominal", "scale": {"domain": ["c", "f"], "range": ["#262a68", "#e8505a"]}, "legend": {"labelExpr": "datum.label == 'c' ? 'RAS_Control (30)' : 'SF (30)'"}}
     }},
    {"transform": [{"filter": "datum.d == 5 && datum.s == 'c'"}],
     "mark": {"type": "text", "align": "left", "dx": 1.5, "dy": -1.6, "fontSize": 3.8, "color": "#262a68"},
     "encoding": {
      "x": {"field": "d", "type": "quantitative", "axis": {"orient": "top", "grid": false, "labels": false, "title": "(D)", "titleX": 3, "titleY": 0.5, "titleAngle": 0, "titleAlign": "left", "titleBaseline": "alphabetic", "titleFontSize": 11.5}},
      "y": {"field": "val", "type": "quantitative", "axis": {"orient": "left", "grid": false, "labels": false, "title": ["GLO", "V"], "titleX": -34.5, "titleY": -16, "titleAngle": 0, "titleAlign": "left", "titleBaseline": "top", "titleFontSize": 6.5, "titleLineHeight": 6}},
      "text": {"field": "val", "type": "quantitative", "format": ".4f"}
     }},
    {"transform": [{"filter": "datum.d == 5 && datum.s == 'f'"}],
     "mark": {"type": "text", "align": "left", "dx": 1.5, "dy": 1.6, "fontSize": 3.8, "color": "#e8505a"},
     "encoding": {
      "x": {"field": "d", "type": "quantitative", "axis": null},
      "y": {"field": "val", "type": "quantitative", "axis": null},
      "text": {"field": "val", "type": "quantitative", "format": ".4f"}
     }}
   ]},
  {"resolve": {"axis": {"x": "independent", "y": "independent"}},
   "layer": [
    {"mark": {"type": "bar", "width": 8.65, "fill": "transparent", "stroke": "#f08c8c", "strokeWidth": 0.6, "clip": true},
     "encoding": {
      "x": {"field": "d", "type": "quantitative", "scale": {"domain": [0, 5], "nice": false}, "axis": {"orient": "bottom", "grid": true, "values": [0,0.5,1,1.5,2,2.5,3,3.5,4,4.5,5], "format": "~f", "labelPadding": 2.5, "title": "Forecast Day", "titleFontSize": 5, "titleY": 8.3, "titleBaseline": "middle"}},
      "y": {"field": "lo", "type": "quantitative", "scale": {"domain": [-152.6, 71], "range": [159, 87], "nice": false, "zero": false}, "axis": {"orient": "left", "grid": true, "values": [60,40,20,0,-20,-40,-60,-80,-100,-120,-140], "format": ".2f", "title": "Difference (x10⁻³)", "titleX": -23.5, "titleY": 123, "titleAngle": 270, "titleAlign": "center", "titleBaseline": "middle", "titleFontSize": 6.6}},
      "y2": {"field": "hi"}
     }},
    {"mark": {"type": "rule", "color": "#8a8a8a", "strokeWidth": 0.7}, "encoding": {"y": {"datum": 0, "type": "quantitative", "axis": null}}},
    {"mark": {"type": "line", "color": "#e23c3c", "strokeWidth": 0.8, "point": {"shape": "square", "size": 4, "filled": true, "color": "#e23c3c"}},
     "encoding": {"x": {"field": "d", "type": "quantitative", "axis": {"orient": "top", "offset": -87, "domain": true, "domainColor": "#555", "domainWidth": 1.6, "labels": false, "grid": false, "title": null}}, "y": {"field": "v", "type": "quantitative", "axis": null}}},
    {"transform": [{"filter": "datum.d == 5"}],
     "mark": {"type": "text", "align": "left", "dx": 1.5, "fontSize": 3.8, "color": "#e23c3c"},
     "encoding": {"x": {"field": "d", "type": "quantitative", "axis": null}, "y": {"field": "v", "type": "quantitative", "axis": {"orient": "left", "grid": false, "labels": false, "title": "JUL 2015", "titleX": -32.2, "titleY": 79.7, "titleAngle": 270, "titleAlign": "center", "titleBaseline": "middle", "titleFontSize": 7}},
      "text": {"field": "v", "type": "quantitative", "format": ".3f"}}}
   ]}
 ]},
{"width": 173, "height": 159,
 "data": {"name": "rows"},
 "transform": [{"filter": "datum.p == 'H'"}],
 "resolve": {"scale": {"x": "independent", "y": "independent"}, "axis": {"x": "independent", "y": "independent"}},
 "layer": [
  {"resolve": {"axis": {"x": "independent", "y": "independent"}},
   "layer": [
    {"mark": {"type": "point", "opacity": 0}, "encoding": {
      "x": {"datum": 0, "type": "quantitative", "scale": {"domain": [0, 1], "range": [-36.7, 189.3]}, "axis": {"orient": "top", "offset": 17.3, "domain": true, "domainColor": "#000", "domainWidth": 1.2, "labels": false, "grid": false, "title": ["Forecasts_Statistics", "500-mb V-Wind   Global"], "titleX": 86.5, "titleY": 2.3, "titleAngle": 0, "titleAlign": "center", "titleBaseline": "top", "titleFontSize": 6.5, "titleLineHeight": 8.4}},
      "y": {"datum": 0, "type": "quantitative", "scale": {"domain": [0, 1], "range": [182.7, -17.3]}, "axis": {"orient": "left", "offset": 36.7, "domain": true, "domainColor": "#000", "domainWidth": 1.2, "labels": false, "grid": false, "title": null}}}},
    {"mark": {"type": "point", "opacity": 0}, "encoding": {
      "x": {"datum": 0, "type": "quantitative", "axis": {"orient": "bottom", "offset": 23.7, "domain": true, "domainColor": "#000", "domainWidth": 1.2, "labels": false, "grid": false, "title": null}},
      "y": {"datum": 0, "type": "quantitative", "axis": {"orient": "right", "offset": 16.3, "domain": true, "domainColor": "#000", "domainWidth": 1.2, "labels": false, "grid": false, "title": null}}}}
   ]},
  {"transform": [{"fold": ["c", "f"], "as": ["s", "val"]}],
   "resolve": {"axis": {"x": "independent", "y": "independent"}},
   "layer": [
    {"mark": {"type": "line", "strokeWidth": 0.9},
     "encoding": {
      "x": {"field": "d", "type": "quantitative", "scale": {"domain": [0, 5], "nice": false}, "axis": {"orient": "bottom", "grid": true, "labels": false, "title": null, "values": [0,0.5,1,1.5,2,2.5,3,3.5,4,4.5,5]}},
      "y": {"field": "val", "type": "quantitative", "scale": {"domain": [-0.56, 6.84], "range": [87, 0], "nice": false, "zero": false}, "axis": {"orient": "left", "grid": true, "values": [0,0.5,1,1.5,2,2.5,3,3.5,4,4.5,5,5.5,6,6.5], "format": ".3f", "title": "Root Mean Square Error", "titleX": -23.5, "titleY": 43.5, "titleAngle": 270, "titleAlign": "center", "titleBaseline": "middle", "titleFontSize": 6.6}},
      "color": {"field": "s", "type": "nominal", "scale": {"domain": ["c", "f"], "range": ["#262a68", "#e8505a"]}, "legend": {"labelExpr": "datum.label == 'c' ? 'RAS_Control (28)' : 'SF (28)'"}}
     }},
    {"transform": [{"filter": "datum.d == 5 && datum.s == 'c'"}],
     "mark": {"type": "text", "align": "left", "dx": 1.5, "dy": -1.6, "fontSize": 3.8, "color": "#262a68"},
     "encoding": {
      "x": {"field": "d", "type": "quantitative", "axis": {"orient": "top", "grid": false, "labels": false, "title": "(H)", "titleX": 3, "titleY": 0.5, "titleAngle": 0, "titleAlign": "left", "titleBaseline": "alphabetic", "titleFontSize": 11.5}},
      "y": {"field": "val", "type": "quantitative", "axis": {"orient": "left", "grid": false, "labels": false, "title": ["GLO", "V"], "titleX": -34.5, "titleY": -16, "titleAngle": 0, "titleAlign": "left", "titleBaseline": "top", "titleFontSize": 6.5, "titleLineHeight": 6}},
      "text": {"field": "val", "type": "quantitative", "format": ".4f"}
     }},
    {"transform": [{"filter": "datum.d == 5 && datum.s == 'f'"}],
     "mark": {"type": "text", "align": "left", "dx": 1.5, "dy": 1.6, "fontSize": 3.8, "color": "#e8505a"},
     "encoding": {
      "x": {"field": "d", "type": "quantitative", "axis": null},
      "y": {"field": "val", "type": "quantitative", "axis": null},
      "text": {"field": "val", "type": "quantitative", "format": ".4f"}
     }}
   ]},
  {"resolve": {"axis": {"x": "independent", "y": "independent"}},
   "layer": [
    {"mark": {"type": "bar", "width": 8.65, "fill": "transparent", "stroke": "#f08c8c", "strokeWidth": 0.6, "clip": true},
     "encoding": {
      "x": {"field": "d", "type": "quantitative", "scale": {"domain": [0, 5], "nice": false}, "axis": {"orient": "bottom", "grid": true, "values": [0,0.5,1,1.5,2,2.5,3,3.5,4,4.5,5], "format": "~f", "labelPadding": 2.5, "title": "Forecast Day", "titleFontSize": 5, "titleY": 8.3, "titleBaseline": "middle"}},
      "y": {"field": "lo", "type": "quantitative", "scale": {"domain": [-175, 54], "range": [159, 87], "nice": false, "zero": false}, "axis": {"orient": "left", "grid": true, "values": [50,25,0,-25,-50,-75,-100,-125,-150,-175], "format": ".2f", "title": "Difference (x10⁻³)", "titleX": -23.5, "titleY": 123, "titleAngle": 270, "titleAlign": "center", "titleBaseline": "middle", "titleFontSize": 6.6}},
      "y2": {"field": "hi"}
     }},
    {"mark": {"type": "rule", "color": "#8a8a8a", "strokeWidth": 0.7}, "encoding": {"y": {"datum": 0, "type": "quantitative", "axis": null}}},
    {"mark": {"type": "line", "color": "#e23c3c", "strokeWidth": 0.8, "point": {"shape": "square", "size": 4, "filled": true, "color": "#e23c3c"}},
     "encoding": {"x": {"field": "d", "type": "quantitative", "axis": {"orient": "top", "offset": -87, "domain": true, "domainColor": "#555", "domainWidth": 1.6, "labels": false, "grid": false, "title": null}}, "y": {"field": "v", "type": "quantitative", "axis": null}}},
    {"transform": [{"filter": "datum.d == 5"}],
     "mark": {"type": "text", "align": "left", "dx": 1.5, "fontSize": 3.8, "color": "#e23c3c"},
     "encoding": {"x": {"field": "d", "type": "quantitative", "axis": null}, "y": {"field": "v", "type": "quantitative", "axis": {"orient": "left", "grid": false, "labels": false, "title": "JAN 2016", "titleX": -32.2, "titleY": 79.7, "titleAngle": 270, "titleAlign": "center", "titleBaseline": "middle", "titleFontSize": 7}},
      "text": {"field": "v", "type": "quantitative", "format": ".3f"}}}
   ]}
 ]}
]
}
